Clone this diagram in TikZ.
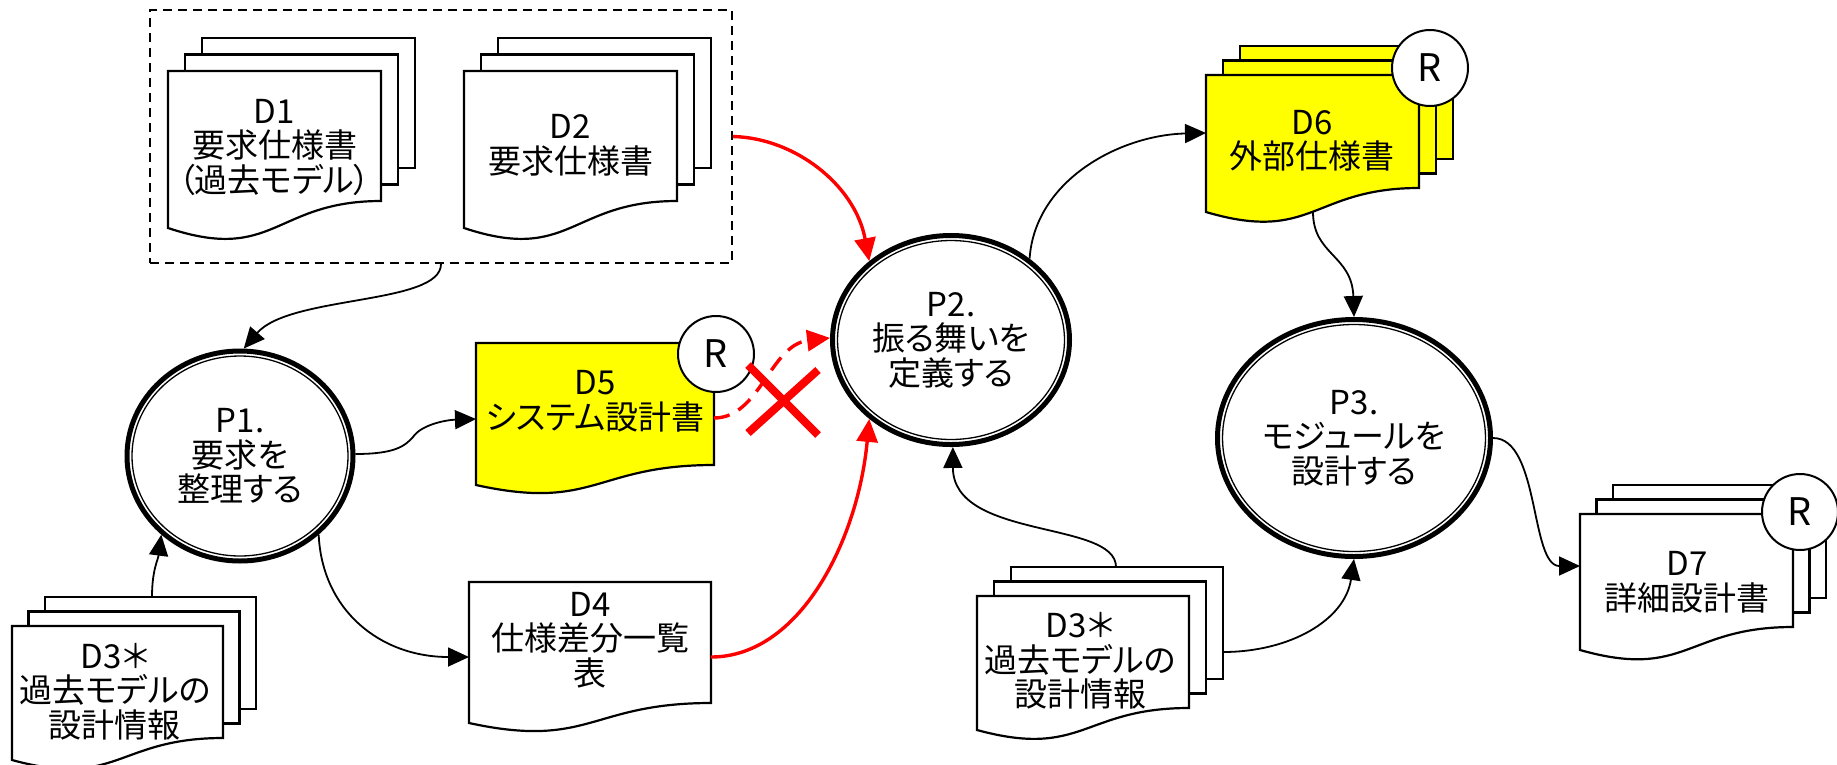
\documentclass[tikz,border=0pt]{standalone}
\usepackage{fontspec}
\setmainfont{Noto Sans CJK JP}[RawFeature=+palt]
\usetikzlibrary{arrows.meta,shapes.geometric}

\definecolor{docyellow}{RGB}{255,255,0}
\definecolor{flowred}{RGB}{255,0,0}

\tikzset{
  sheet/.style={draw=black, line width=2.2pt, fill=white},
  yellowsheet/.style={sheet, fill=docyellow},
  doctext/.style={align=center, inner sep=0pt, font=\fontsize{33}{34.5}\selectfont},
  proc/.style={ellipse, draw=black, line width=5pt, fill=white, align=center,
    inner sep=0pt, font=\fontsize{33}{34.5}\selectfont},
  revmark/.style={circle, draw=black, line width=2pt, fill=white,
    minimum size=76pt, inner sep=0pt, font=\fontsize{38}{38}\selectfont},
  flow/.style={draw=black, line width=1.8pt, -{Triangle[length=21pt,width=19pt]}},
  redflow/.style={draw=flowred, line width=3.4pt, -{Triangle[length=23pt,width=21pt]}},
  groupbox/.style={draw=black, line width=2pt, dash pattern=on 9pt off 6pt},
}

% document sheet with a wavy lower edge: style, x, top, width, right bottom, left bottom
\newcommand\docshape[6]{%
  \pgfmathsetmacro\docxr{#2+#4}%
  \pgfmathsetmacro\docxm{#2+#4/2}%
  \pgfmathsetmacro\docyc{#6+1.314*(#6-#5)}%
  \draw[#1] (#2,#3) -- (\docxr,#3) -- (\docxr,#5)
    .. controls (\docxm,#5) and (\docxm,\docyc) .. (#2,#6) -- cycle;%
}
% stack of three sheets: same as above plus offset dx, dy of the sheets behind
\newcommand\docstack[8]{%
  \pgfmathsetmacro\docbx{#2+2*#7}%
  \pgfmathsetmacro\docbt{#3-2*#8}%
  \pgfmathsetmacro\docbr{#2+2*#7+#4}%
  \pgfmathsetmacro\docbb{#5-2*#8}%
  \draw[#1] (\docbx,\docbt) rectangle (\docbr,\docbb);%
  \pgfmathsetmacro\docbx{#2+#7}%
  \pgfmathsetmacro\docbt{#3-#8}%
  \pgfmathsetmacro\docbr{#2+#7+#4}%
  \pgfmathsetmacro\docbb{#5-#8}%
  \draw[#1] (\docbx,\docbt) rectangle (\docbr,\docbb);%
  \docshape{#1}{#2}{#3}{#4}{#5}{#6}%
}

\begin{document}
\begin{tikzpicture}[x=1pt, y=-1pt]
\useasboundingbox (0,0) rectangle (1837,764);

% requirement documents grouped in a dashed frame
\node[groupbox, minimum width=582pt, minimum height=253pt, inner sep=0pt] (grp) at (441,136.5) {};
\docstack{sheet}{168}{71}{213}{201}{228}{17}{16.5}
\node[doctext] (D1) at (274.5,147) {D1\\要求仕様書\\（過去モデル）};
\docstack{sheet}{464}{71}{213}{201}{228}{17}{16.5}
\node[doctext] (D2) at (570.5,145.5) {D2\\要求仕様書};

% system design document
\docshape{yellowsheet}{476}{343}{238}{465}{485}
\node[doctext] (D5) at (595,401.5) {D5\\システム設計書};

% specification difference list
\docshape{sheet}{469}{582}{242}{703}{723}
\node[doctext] (D4) at (590,640) {D4\\仕様差分一覧\\表};

% external specification
\docstack{yellowsheet}{1206}{75}{213}{188}{212}{17}{14.5}
\node[doctext] (D6) at (1312,141) {D6\\外部仕様書};

% detailed design
\docstack{sheet}{1580}{514}{213}{627}{650}{16.5}{14.5}
\node[doctext] (D7) at (1687,582.5) {D7\\詳細設計書};

% past model design information (two copies)
\docstack{sheet}{977}{596}{212}{708}{730}{17}{14.5}
\node[doctext] (D3b) at (1080,661) {D3＊\\過去モデルの\\設計情報};
\docstack{sheet}{12}{626}{211}{738}{760}{16.5}{14.5}
\node[doctext] (D3a) at (115,691.5) {D3＊\\過去モデルの\\設計情報};

% review marks
\node[revmark] (R5) at (716,354) {R};
\node[revmark] (R6) at (1430,68) {R};
\node[revmark] (R7) at (1800,512) {R};

% processes
\node[proc, minimum width=226pt, minimum height=210pt] (P1) at (240,456) {P1.\\要求を\\整理する};
\node[proc, minimum width=237pt, minimum height=209pt] (P2) at (951,340) {P2.\\振る舞いを\\定義する};
\node[proc, minimum width=273pt, minimum height=237pt] (P3) at (1354,438) {P3.\\モジュールを\\設計する};
\draw[line width=1.3pt] (P1.center) ellipse [x radius=108pt, y radius=100pt];
\draw[line width=1.3pt] (P2.center) ellipse [x radius=113.5pt, y radius=99.5pt];
\draw[line width=1.3pt] (P3.center) ellipse [x radius=131.5pt, y radius=113.5pt];

% connection points on the documents
\coordinate (D5w) at (476,419);
\coordinate (D5e) at (714,418);
\coordinate (D4w) at (469,657);
\coordinate (D4e) at (711,657);
\coordinate (D6w) at (1206,133);
\coordinate (D6s) at (1313,212);
\coordinate (D7w) at (1580,566);
\coordinate (D3aN) at (152,597);
\coordinate (D3bN) at (1116,567);
\coordinate (D3bE) at (1223,652);

% data flows
\draw[flow] (grp.south) .. controls (441,305) and (290,295) .. (P1.88);
\draw[flow] (P1.1) .. controls (395,454) and (405,446) .. (413,437)
  .. controls (421,425) and (445,420) .. (D5w);
\draw[flow] (P1.-45) .. controls (322,610) and (380,657) .. (D4w);
\draw[flow] (D3aN) .. controls (152,570) and (158,560) .. (P1.225);
\draw[redflow] (grp.east) .. controls (795,138) and (855,185) .. (P2.136);
\draw[redflow, dash pattern=on 16pt off 10pt] (D5e) .. controls (760,418) and (770,345) .. (P2.179);
\draw[redflow] (D4e) .. controls (800,657) and (858,540) .. (P2.224);
\draw[flow] (D3bN) .. controls (1116,520) and (953,540) .. (P2.-89);
\draw[flow] (P2.46) .. controls (1035,180) and (1120,135) .. (D6w);
\draw[flow] (D6s) .. controls (1313,255) and (1352,255) .. (P3.north);
\draw[flow] (D3bE) .. controls (1290,652) and (1345,620) .. (P3.south);
\draw[flow] (P3.east) .. controls (1540,438) and (1530,566) .. (D7w);

% rejected flow mark
\draw[flowred, line width=8pt] (748,365) -- (818,435) (818,370) -- (748,433);
\end{tikzpicture}
\end{document}
